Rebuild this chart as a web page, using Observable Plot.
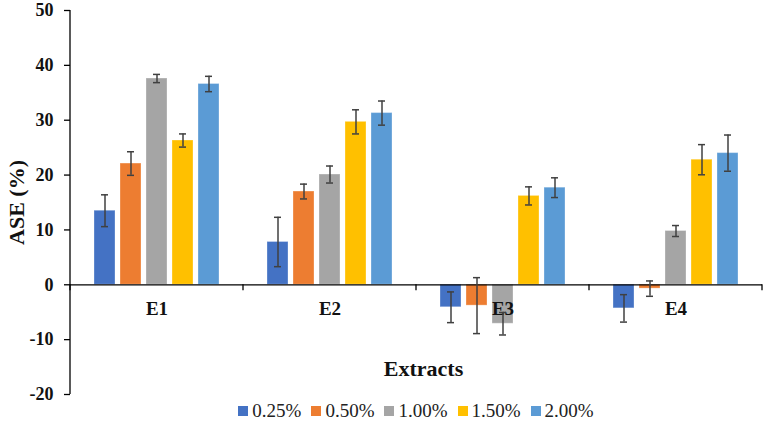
<!DOCTYPE html>
<html>
<head>
<meta charset="utf-8">
<script src="https://cdn.jsdelivr.net/npm/d3@7"></script>
<script src="https://cdn.jsdelivr.net/npm/@observablehq/plot@0.6"></script>
<style>
  body { margin: 0; background: #fff; }
  #chart { width: 765px; }
  .legend { display: flex; justify-content: center; align-items: center; padding-left: 70px; padding-right: 3px;
    font-family: "Liberation Serif", "Times New Roman", serif; font-size: 19px; line-height: 1; color: #222; height: 21px; }
  .legend .item { display: flex; align-items: center; margin: 0 5px; }
  .legend .sw { width: 10px; height: 10px; margin-right: 4px; }
</style>
</head>
<body>
<div id="chart"></div>
<script>
const groups = ["E1", "E2", "E3", "E4"];
const series = ["0.25%", "0.50%", "1.00%", "1.50%", "2.00%"];
const colors = ["#4472C4", "#ED7D31", "#A5A5A5", "#FFC000", "#5B9BD5"];

// mean ASE (%) per extract, one array per concentration
const v025 = [13.5, 7.8, -4.1, -4.3];
const v050 = [22.1, 17.0, -3.8, -0.7];
const v100 = [37.6, 20.1, -7.1, 9.8];
const v150 = [26.3, 29.7, 16.2, 22.8];
const v200 = [36.6, 31.3, 17.7, 24.0];
// error bar half-widths
const e025 = [2.9, 4.5, 2.8, 2.5];
const e050 = [2.15, 1.35, 5.1, 1.4];
const e100 = [0.75, 1.55, 2.05, 1.0];
const e150 = [1.2, 2.2, 1.65, 2.75];
const e200 = [1.4, 2.2, 1.8, 3.3];

const yTicks = [-20, -10, 0, 10, 20, 30, 40, 50];

const vals = [v025, v050, v100, v150, v200];
const errs = [e025, e050, e100, e150, e200];
const data = [];
groups.forEach((g, gi) => series.forEach((s, si) => {
  data.push({group: g, series: s, value: vals[si][gi], err: errs[si][gi]});
}));
const edgeData = groups.map((g, i) => ({group: g, first: i === 0, last: i === groups.length - 1}));

const font = "Liberation Serif, Times New Roman, serif";

// category-boundary ticks on the zero axis, plus the vertical value-axis line
const edges = Plot.ruleY(edgeData, {
  fx: "group",
  y: () => 0,
  render(index, scales) {
    const {x, y} = scales;
    const [x0, x1] = x.range();
    const [d0, d1] = y.domain();
    const g = d3.create("svg:g").attr("stroke", "#000").attr("stroke-width", 1.3);
    for (const i of index) {
      const d = edgeData[i];
      g.append("line").attr("x1", x0).attr("x2", x0).attr("y1", y(0)).attr("y2", y(0) + 6);
      if (d.last) g.append("line").attr("x1", x1).attr("x2", x1).attr("y1", y(0)).attr("y2", y(0) + 6);
      if (d.first) g.append("line").attr("x1", x0).attr("x2", x0).attr("y1", y(d1)).attr("y2", y(d0));
    }
    return g.node();
  }
});

const chart = Plot.plot({
  width: 765,
  height: 400,
  marginTop: 10,
  marginBottom: 6,
  marginLeft: 70,
  marginRight: 3,
  style: {fontFamily: font, background: "#fff", overflow: "visible", color: "#111"},
  fx: {domain: groups, padding: 0, axis: null},
  x: {domain: series, paddingInner: 0.2075, paddingOuter: 0.868, axis: null},
  y: {domain: [-20, 50], axis: null},
  color: {domain: series, range: colors},
  marks: [
    Plot.axisY({ticks: yTicks, tickSize: 6, tickPadding: 11, tickFormat: d => String(d),
      fontSize: 18, fontWeight: "bold", stroke: "#000", strokeWidth: 1.3, label: null}),
    Plot.text(["ASE (%)"], {fx: () => "E1", frameAnchor: "left", textAnchor: "middle", rotate: -90, dx: -54,
      text: d => d, fontSize: 22, fontWeight: "bold", fill: "#111"}),
    Plot.text(["Extracts"], {fx: () => "E2", frameAnchor: "bottom-right", textAnchor: "middle", dx: 7, dy: -19,
      text: d => d, fontSize: 22, fontWeight: "bold", fill: "#111"}),
    Plot.barY(data, {fx: "group", x: "series", y: "value", fill: "series",
      stroke: "#fff", strokeOpacity: 0.3, strokeWidth: 1}),
    Plot.text(groups, {fx: d => d, y: 0, dy: 24, text: d => d, fontSize: 19, fontWeight: "bold", fill: "#111"}),
    Plot.ruleY([0], {stroke: "#000", strokeWidth: 1.3}),
    edges,
    Plot.ruleX(data, {fx: "group", x: "series", y1: d => d.value - d.err, y2: d => d.value + d.err,
      stroke: "#404040", strokeWidth: 1.5}),
    Plot.tickY(data, {fx: "group", x: "series", y: d => d.value - d.err, insetLeft: 7, insetRight: 7,
      stroke: "#404040", strokeWidth: 1.5}),
    Plot.tickY(data, {fx: "group", x: "series", y: d => d.value + d.err, insetLeft: 7, insetRight: 7,
      stroke: "#404040", strokeWidth: 1.5})
  ]
});
document.getElementById("chart").appendChild(chart);

const legend = document.createElement("div");
legend.className = "legend";
series.forEach((s, i) => {
  const item = document.createElement("div");
  item.className = "item";
  const sw = document.createElement("div");
  sw.className = "sw";
  sw.style.background = colors[i];
  const t = document.createElement("span");
  t.textContent = s;
  item.appendChild(sw);
  item.appendChild(t);
  legend.appendChild(item);
});
document.getElementById("chart").appendChild(legend);
</script>
</body>
</html>
